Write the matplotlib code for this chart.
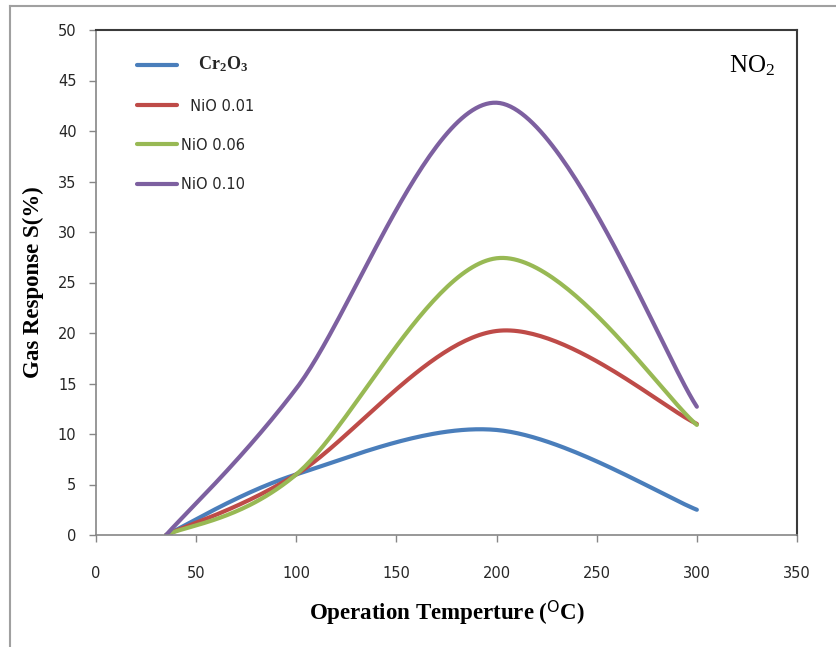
from matplotlib import pyplot as plt
from matplotlib.lines import Line2D
import numpy as np

plt.rcParams['mathtext.fontset'] = 'custom'
plt.rcParams['mathtext.rm'] = 'Liberation Serif'
plt.rcParams['mathtext.bf'] = 'Liberation Serif:bold'
plt.rcParams['mathtext.it'] = 'Liberation Serif:italic'

# measured points (Excel-style smoothed line through them)
temps = [35, 100, 200, 300]
cr2o3 = [0, 6, 10.4, 2.5]
nio_001 = [0, 6, 20.2, 11]
nio_006 = [0, 6, 27.4, 10.9]
nio_010 = [0, 14.5, 42.8, 12.7]

labels = [r'   $\mathbf{Cr_2O_3}$', '  NiO 0.01', 'NiO 0.06', 'NiO 0.10']
colors = ['#4A7EBB', '#BE4B48', '#98B954', '#7D60A0']


def smooth(x, y, n = 60):
    # bezier with control points like Excel's smoothed line
    x = np.asarray(x, float)
    y = np.asarray(y, float)
    px = np.concatenate(([x[0]], x, [x[-1]]))
    py = np.concatenate(([y[0]], y, [y[-1]]))
    t = np.linspace(0, 1, n)
    xs, ys = [], []
    for i in range(1, len(px) - 2):
        c1x = px[i] + (px[i + 1] - px[i - 1]) / 6
        c1y = py[i] + (py[i + 1] - py[i - 1]) / 6
        c2x = px[i + 1] - (px[i + 2] - px[i]) / 6
        c2y = py[i + 1] - (py[i + 2] - py[i]) / 6
        b0, b1, b2, b3 = (1 - t)**3, 3 * t * (1 - t)**2, 3 * t**2 * (1 - t), t**3
        xs.append(b0 * px[i] + b1 * c1x + b2 * c2x + b3 * px[i + 1])
        ys.append(b0 * py[i] + b1 * c1y + b2 * c2y + b3 * py[i + 1])
    return np.concatenate(xs), np.concatenate(ys)


fig = plt.figure(figsize = (8.36, 6.47), dpi = 100)
ax = fig.add_axes([96 / 836, 1 - 535 / 647, 701 / 836, 505 / 647])

# outer chart frame (only top and left visible)
fig.add_artist(Line2D([10 / 836, 10 / 836], [0, 1 - 6 / 647], color = '#A0A0A0', lw = 1.5))
fig.add_artist(Line2D([10 / 836, 1], [1 - 6 / 647, 1 - 6 / 647], color = '#A0A0A0', lw = 1.5))

for ys, lab, c in zip([cr2o3, nio_001, nio_006, nio_010], labels, colors):
    sx, sy = smooth(temps, ys)
    ax.plot(sx, sy, color = c, lw = 3, label = lab, solid_capstyle = 'round')

ax.set_xlim(0, 350)
ax.set_ylim(0, 50)
ax.set_xticks(np.arange(0, 351, 50))
ax.set_yticks(np.arange(0, 51, 5))

for s in ['left', 'bottom']:
    ax.spines[s].set_color('#868686')
    ax.spines[s].set_linewidth(1.2)
for s in ['top', 'right']:
    ax.spines[s].set_color('#3A3A3A')
    ax.spines[s].set_linewidth(1.5)

ax.tick_params(axis = 'both', direction = 'out', length = 5, width = 1, color = '#868686',
               labelsize = 10.5, labelcolor = '#262626')
ax.tick_params(axis = 'x', pad = 17)
ax.tick_params(axis = 'y', pad = 9)

ax.set_xlabel(r'Operation Temperture ($^{\mathsf{O}}$C)', fontsize = 16.5, fontweight = 'bold',
              family = 'Liberation Serif', labelpad = 13)
ax.set_ylabel('Gas Response S(%)', fontsize = 16.5, fontweight = 'bold',
              family = 'Liberation Serif', labelpad = 10)

ax.text(0.969, 0.929, r'$\mathrm{NO_2}$', transform = ax.transAxes, ha = 'right', va = 'center',
        fontsize = 18)

leg = ax.legend(loc = 'upper left', bbox_to_anchor = (0.04, 0.977), frameon = False,
                fontsize = 10.5, handlelength = 2.7, handletextpad = 0.3, labelspacing = 1.65)
texts = leg.get_texts()
texts[0].set_fontsize(13)
for t in texts:
    t.set_color('#262626')

plt.savefig('out.png', dpi = 100)
